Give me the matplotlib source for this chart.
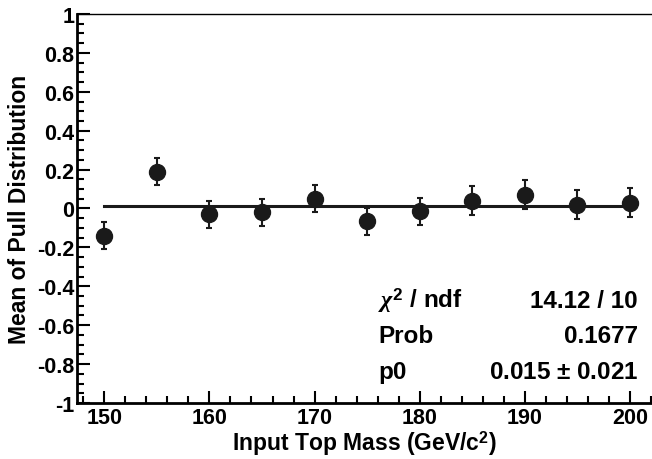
import numpy as np
import matplotlib
matplotlib.use('Agg')
import matplotlib.pyplot as plt
from matplotlib.ticker import MultipleLocator

plt.rcParams['font.family'] = ['Liberation Sans', 'DejaVu Sans']
plt.rcParams['font.weight'] = 'bold'
plt.rcParams['mathtext.fontset'] = 'custom'
plt.rcParams['mathtext.rm'] = 'Liberation Sans:bold'
plt.rcParams['mathtext.bf'] = 'Liberation Sans:bold'
plt.rcParams['mathtext.it'] = 'Liberation Serif:italic'

# input top mass points and mean of pull
mass = [150, 155, 160, 165, 170, 175, 180, 185, 190, 195, 200]
pull_mean = [-0.14, 0.19, -0.03, -0.02, 0.05, -0.065, -0.015, 0.04, 0.07, 0.02, 0.03]
pull_err = [0.07, 0.07, 0.07, 0.07, 0.07, 0.07, 0.07, 0.075, 0.075, 0.075, 0.075]
p0 = 0.015
fit_range = [150, 200]

fig = plt.figure(figsize=(6.52, 4.6), dpi=100)
ax = fig.add_axes([77 / 652, 56 / 460, 575 / 652, 389 / 460])

ax.errorbar(mass, pull_mean, yerr=pull_err, fmt='o', color='#1a1a1a',
            markersize=11.5, elinewidth=1.5, capsize=2, capthick=1.5, zorder=3)
ax.plot(fit_range, [p0, p0], color='#1a1a1a', lw=2.2, zorder=2)

ax.set_xlim(147.4, 202.1)
ax.set_ylim(-1, 1)
ax.xaxis.set_major_locator(MultipleLocator(10))
ax.xaxis.set_minor_locator(MultipleLocator(2))
ax.yaxis.set_major_locator(MultipleLocator(0.2))
ax.yaxis.set_minor_locator(MultipleLocator(0.05))
ax.tick_params(which='both', direction='in', width=1.5)
ax.tick_params(which='major', length=9)
ax.tick_params(which='minor', length=5)
ax.tick_params(axis='x', pad=3, labelsize=15.5)
ax.tick_params(axis='y', pad=2, labelsize=15.5)
ax.yaxis.set_major_formatter(plt.FuncFormatter(lambda v, p: '%g' % round(v, 2)))

for s in ['left', 'bottom']:
    ax.spines[s].set_linewidth(2)
ax.spines['top'].set_linewidth(1)
ax.spines['right'].set_visible(False)

ax.set_xlabel('Input Top Mass (GeV/c$^{\\mathbf{2}}$)', fontsize=16.5, fontweight='bold', labelpad=0)
ax.set_ylabel('Mean of Pull Distribution', fontsize=16.5, fontweight='bold', labelpad=4)

# fit statistics box text
rows = [('$\\mathit{\\chi}^{\\mathbf{2}}$ / ndf', '14.12 / 10'),
        ('Prob', '0.1677'),
        ('p0', '0.015 $\\pm$ 0.021')]
for i, (k, v) in enumerate(rows):
    y = 301 + 36 * i
    fig.text(378 / 652, 1 - y / 460, k, fontsize=17.5, fontweight='bold', va='center', ha='left')
    fig.text(638 / 652, 1 - y / 460, v, fontsize=17.5, fontweight='bold', va='center', ha='right')

fig.savefig('out.png', dpi=100)
